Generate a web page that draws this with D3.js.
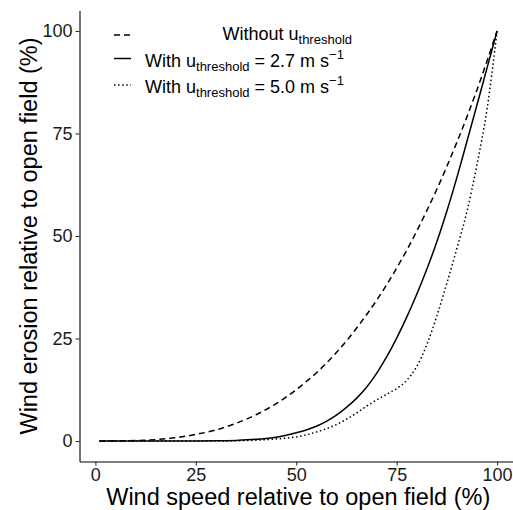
<!DOCTYPE html>
<html>
<head>
<meta charset="utf-8">
<script src="https://cdn.jsdelivr.net/npm/d3@7"></script>
<style>
    body { margin: 0; background: #fff; }
    svg { display: block; font-family: "Liberation Sans", Arial, sans-serif; }
</style>
</head>
<body>
<div id="chart"></div>
<script>
/*
 * Wind speed relative to open field (%).
 */
var windSpeed = [1, 5, 10, 15, 20, 25, 30, 35, 40, 45, 50, 52.5, 55, 57.5, 60, 62.5, 65,
    67.5, 70, 72.5, 75, 77.5, 80, 82.5, 85, 87.5, 90, 92.5, 95, 97.5, 100];
/*
 * Wind erosion relative to open field (%), one array per scenario.
 */
var erosionNoThreshold = [0, 0.01, 0.1, 0.34, 0.8, 1.6, 2.7, 4.3, 6.4, 9.1, 12.5, 14.5, 16.6,
    19.0, 21.6, 24.4, 27.5, 30.8, 34.3, 38.1, 42.2, 46.5, 51.2, 56.2, 61.4, 67.0, 72.9, 79.1,
    85.7, 92.7, 100];
var erosionThreshold27 = [0, 0, 0, 0, 0, 0.01, 0.05, 0.15, 0.4, 0.9, 2.0, 2.7, 3.6, 4.8, 6.3,
    8.2, 10.4, 13.1, 16.5, 20.5, 25.1, 30.2, 35.8, 41.9, 48.6, 56.1, 64.3, 73.1, 82.0, 91.0, 100];
var erosionThreshold50 = [0, 0, 0, 0, 0, 0, 0.01, 0.05, 0.2, 0.5, 1.0, 1.5, 2.2, 3.0, 4.0, 5.3,
    6.8, 8.5, 10.0, 11.4, 12.8, 14.8, 18.2, 23.5, 30.5, 38.5, 47.0, 56.0, 67.5, 81.0, 100];
/*
 * Tick values.
 */
var xTicks = [0, 25, 50, 75, 100];
var yTicks = [0, 25, 50, 75, 100];

var width = 513, height = 510;

/*
 * Scale functions (ggplot style 5% expansion around the data range).
 */
var xScale = d3.scaleLinear().domain([-3.95, 104.95]).range([79.5, 517]);
var yScale = d3.scaleLinear().domain([-5, 105]).range([461.5, 10.5]);

var svg = d3.select('#chart').append('svg')
    .attr('width', width)
    .attr('height', height);

/*
 * Axes.
 */
var xAxis = svg.append('g')
    .attr('transform', 'translate(0,' + yScale(-5) + ')')
    .call(d3.axisBottom(xScale).tickValues(xTicks).tickSize(4).tickPadding(3).tickSizeOuter(0));

var yAxis = svg.append('g')
    .attr('transform', 'translate(' + xScale(-3.95) + ',0)')
    .call(d3.axisLeft(yScale).tickValues(yTicks).tickSize(4).tickPadding(3).tickSizeOuter(0));

[xAxis, yAxis].forEach(function(axis) {
    axis.select('.domain').attr('stroke', '#000').attr('stroke-width', 1.1);
    axis.selectAll('.tick line').attr('stroke', '#333').attr('stroke-width', 1.1);
    axis.selectAll('.tick text')
        .attr('fill', '#1a1a1a')
        .style('font-size', '18px')
        .style('font-family', '"Liberation Sans", Arial, sans-serif');
});

/*
 * Axis titles.
 */
svg.append('text')
    .attr('x', (xScale(-3.95) + width) / 2 + 2)
    .attr('y', 505)
    .attr('text-anchor', 'middle')
    .style('font-size', '23.5px')
    .attr('fill', '#000')
    .text('Wind speed relative to open field (%)');

svg.append('text')
    .attr('transform', 'translate(37,' + (yScale(50)) + ') rotate(-90)')
    .attr('text-anchor', 'middle')
    .style('font-size', '23.5px')
    .attr('fill', '#000')
    .text('Wind erosion relative to open field (%)');

/*
 * Lines.
 */
var series = [
    { values: erosionNoThreshold, dash: '6,4' },
    { values: erosionThreshold27, dash: null },
    { values: erosionThreshold50, dash: '1.5,2.6' }
];

var line = d3.line()
    .x(function(d) { return xScale(d[0]); })
    .y(function(d) { return yScale(d[1]); })
    .curve(d3.curveMonotoneX);

series.forEach(function(s) {
    svg.append('path')
        .datum(windSpeed.map(function(x, i) { return [x, s.values[i]]; }))
        .attr('d', line)
        .attr('fill', 'none')
        .attr('stroke', '#000')
        .attr('stroke-width', 1.5)
        .attr('stroke-dasharray', s.dash);
});

/*
 * Legend.
 */
var legend = svg.append('g').style('font-size', '18px');
var keyY = [35, 58.5, 85];

series.forEach(function(s, i) {
    legend.append('line')
        .attr('x1', 114).attr('x2', 131)
        .attr('y1', keyY[i]).attr('y2', keyY[i])
        .attr('stroke', '#000')
        .attr('stroke-width', 1.5)
        .attr('stroke-dasharray', s.dash);
});

var row1 = legend.append('text').attr('x', 352).attr('y', 39.5).attr('text-anchor', 'end');
row1.append('tspan').text('Without u');
row1.append('tspan').attr('dy', 4).style('font-size', '13px').text('threshold');

[['2.7', 66.7], ['5.0', 93.3]].forEach(function(r) {
    var t = legend.append('text').attr('x', 145).attr('y', r[1]);
    t.append('tspan').text('With u');
    t.append('tspan').attr('dy', 4).style('font-size', '13px').text('threshold');
    t.append('tspan').attr('dy', -4).text(' = ' + r[0] + ' m s');
    t.append('tspan').attr('dy', -8).style('font-size', '13px').text('\u22121');
});
</script>
</body>
</html>
